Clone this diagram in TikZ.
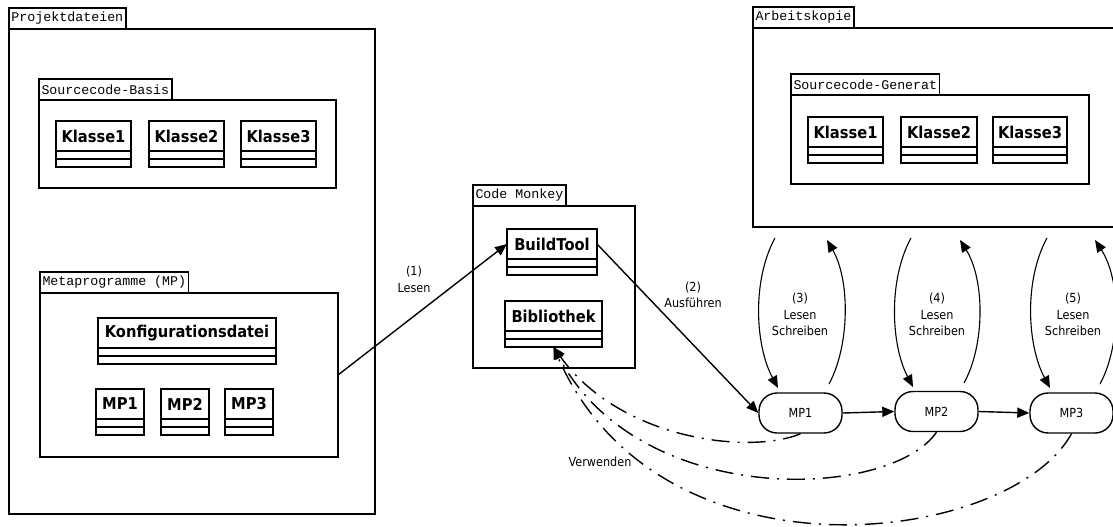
\documentclass[tikz,border=0pt]{standalone}
\usepackage{fontspec}
\usetikzlibrary{arrows.meta}
\newfontfamily\monof{Liberation Mono}
\newfontfamily\sansf{DejaVu Sans}[FakeStretch=0.9]
\tikzset{
 pkgtab/.style={draw, line width=1.6pt, outer sep=0pt, inner xsep=2.5pt, inner ysep=0pt, minimum height=21pt, anchor=south west, font=\monof\fontsize{13.3}{15}\selectfont},
 pkgbody/.style={draw, line width=1.6pt, outer sep=0pt, anchor=north west, inner sep=0pt},
 clsbox/.style={draw, line width=1.6pt, outer sep=0pt, anchor=north west, minimum height=46pt, inner sep=0pt},
 clsname/.style={anchor=north west, outer sep=0pt, minimum height=30pt, inner sep=0pt, font=\sansf\bfseries\fontsize{16.3}{18}\selectfont},
 clsline/.style={line width=1.6pt},
 mpstate/.style={draw, line width=1.4pt, rounded corners=18pt, minimum width=83pt, minimum height=40pt, inner sep=0pt, font=\sansf\fontsize{12.5}{15}\selectfont},
 lbl/.style={align=center, font=\sansf\fontsize{12.5}{16.5}\selectfont, inner sep=0pt},
 arr/.style={line width=1.4pt, -{Triangle[length=12pt,width=10pt]}},
 rwarr/.style={line width=1.1pt, -{Triangle[length=12pt,width=10pt]}},
 usedep/.style={line width=1.4pt, dash pattern=on 18pt off 8pt on 2pt off 8pt, -{Triangle[length=12pt,width=10pt]}},
}
\newcommand\ucls[5]{%
 \node[clsbox, minimum width=#4] (#1) at (#2,#3) {};
 \node[clsname, minimum width=#4] (#1n) at (#2,#3) {#5};
 \draw[clsline] ([yshift=-30pt]#1.north west) -- ([yshift=-30pt]#1.north east);
 \draw[clsline] ([yshift=-38pt]#1.north west) -- ([yshift=-38pt]#1.north east);
}
\begin{document}
\begin{tikzpicture}[x=1pt,y=-1pt]
\useasboundingbox (0,0) rectangle (1113,527);
\clip (0,0) rectangle (1113,527);
\fill[white] (0,0) rectangle (1113,527);

% Projektdateien
\node[pkgtab] (projT) at (9,29) {Projektdateien};
\node[pkgbody, minimum width=366pt, minimum height=485pt] (proj) at (9,29) {};
% Sourcecode-Basis
\node[pkgtab] (sbT) at (39,100) {Sourcecode-Basis};
\node[pkgbody, minimum width=297pt, minimum height=88pt] (sb) at (39,100) {};
\ucls{ka}{56}{121}{75}{Klasse1}
\ucls{kb}{149}{121}{75}{Klasse2}
\ucls{kc}{241}{121}{75}{Klasse3}
% Metaprogramme
\node[pkgtab] (mpT) at (40,293) {Metaprogramme (MP)};
\node[pkgbody, minimum width=298pt, minimum height=164pt] (mp) at (40,293) {};
\ucls{konf}{98}{318}{178}{Konfigurationsdatei}
\ucls{mpa}{96}{389}{48}{MP1}
\ucls{mpb}{161}{389}{48}{MP2}
\ucls{mpc}{225}{389}{48}{MP3}

% Code Monkey
\node[pkgtab] (cmT) at (473,206) {Code Monkey};
\node[pkgbody, minimum width=162pt, minimum height=162pt] (cm) at (473,206) {};
\ucls{bt}{507}{229}{90}{BuildTool}
\ucls{bib}{505}{301}{97}{Bibliothek}

% Arbeitskopie
\node[pkgtab] (akT) at (753,28) {Arbeitskopie};
\node[pkgbody, minimum width=400pt, minimum height=199pt] (ak) at (753,28) {};
\node[pkgtab] (sgT) at (791,95) {Sourcecode-Generat};
\node[pkgbody, minimum width=298pt, minimum height=89pt] (sg) at (791,95) {};
\ucls{ga}{808}{117}{75}{Klasse1}
\ucls{gb}{901}{117}{76}{Klasse2}
\ucls{gc}{993}{117}{74}{Klasse3}

% MP states
\node[mpstate] (s1) at (800.5,413) {MP1};
\node[mpstate] (s2) at (936.5,411.5) {MP2};
\node[mpstate] (s3) at (1071.5,413) {MP3};

% main arrows
\draw[arr] (mp.east) -- (btn.west);
\node[lbl] (l1) at (414,279.5) {(1)\\Lesen};
\draw[arr] (btn.east) -- (s1.west);
\node[lbl] (l2) at (693,295) {(2)\\Ausführen};
\draw[arr] (s1.east) -- (s2.west);
\draw[arr] (s2.east) -- (s3.west);

% read/write arrows
\coordinate (r3a) at (775,238); \coordinate (r3b) at (778,388);
\coordinate (r3c) at (829,384); \coordinate (r3d) at (827,240);
\coordinate (r4a) at (911,238); \coordinate (r4b) at (913,387);
\coordinate (r4c) at (964,383); \coordinate (r4d) at (960,240);
\coordinate (r5a) at (1047,238); \coordinate (r5b) at (1050,388);
\coordinate (r5c) at (1100,384); \coordinate (r5d) at (1095,240);
\draw[rwarr] (r3a) .. controls (752,280) and (755,345) .. (r3b);
\draw[rwarr] (r3c) .. controls (850,345) and (850,280) .. (r3d);
\draw[rwarr] (r4a) .. controls (888,280) and (891,345) .. (r4b);
\draw[rwarr] (r4c) .. controls (985,345) and (985,280) .. (r4d);
\draw[rwarr] (r5a) .. controls (1024,280) and (1027,345) .. (r5b);
\draw[rwarr] (r5c) .. controls (1121,345) and (1121,280) .. (r5d);
\node[lbl] (l3) at (800,314.5) {(3)\\Lesen\\Schreiben};
\node[lbl] (l4) at (937,314.5) {(4)\\Lesen\\Schreiben};
\node[lbl] (l5) at (1073,314.5) {(5)\\Lesen\\Schreiben};

% use dependencies
\draw[usedep] (s1.south) .. controls (750,455) and (620,440) .. (bib.south);
\draw[usedep] (s2.south) .. controls (890,500) and (640,510) .. (bib.south);
\draw[usedep] (s3.south) .. controls (1010,545) and (660,590) .. (bib.south);
\node[lbl] (lv) at (600,462) {Verwenden};
\end{tikzpicture}
\end{document}
